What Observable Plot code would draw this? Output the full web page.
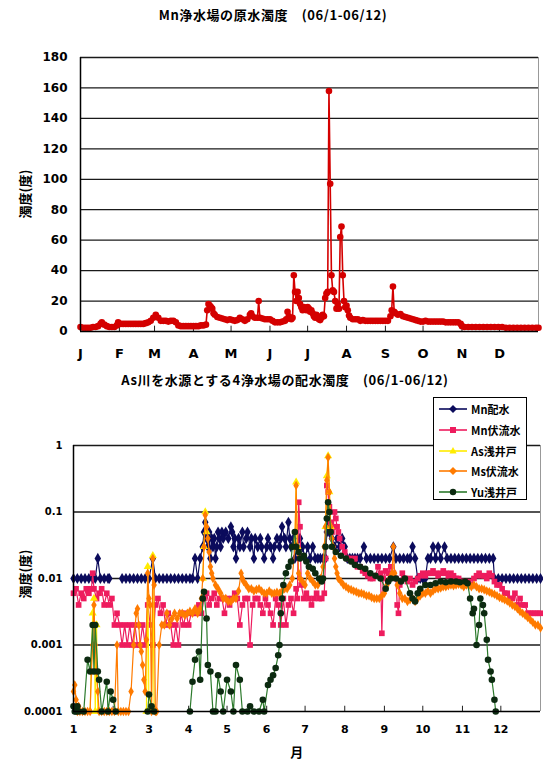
<!DOCTYPE html>
<html>
<head>
<meta charset="utf-8">
<script src="https://cdn.jsdelivr.net/npm/d3@7"></script>
<script src="https://cdn.jsdelivr.net/npm/@observablehq/plot@0.6"></script>
<style>
  body { margin: 0; background: #fff; }
  #page { position: relative; width: 543px; height: 766px; overflow: hidden; background: #fff;
          font-family: "DejaVu Sans", "Noto Sans CJK JP", sans-serif; font-weight: bold; color: #000; }
  .title { position: absolute; white-space: nowrap; font-size: 13px; letter-spacing: 0.6px; transform: translateX(-50%);
           font-family: "Noto Sans CJK JP", sans-serif; font-weight: bold; }
  .ylab { position: absolute; white-space: nowrap; font-size: 13px; transform: translate(-50%, -50%) rotate(-90deg);
          font-family: "Noto Sans CJK JP", sans-serif; font-weight: bold; }
  .chart { position: absolute; left: 0; }
  #top svg [aria-label^="x-axis"] text { font-size: 13px; }
  #bottom svg [aria-label^="x-axis"] text { font-size: 11px; }
  #legend { position: absolute; left: 433px; top: 397px; width: 92px; height: 101px; background: #fff;
            border: 1px solid #000; font-family: "Noto Sans CJK JP", sans-serif; font-size: 11px; }
  #legend .row { position: absolute; left: 4px; height: 14px; display: flex; align-items: center; }
  #legend svg { margin-right: 3px; }
</style>
</head>
<body>
<div id="page">
  <div class="title" style="left:273px; top:5px;">Mn浄水場の原水濁度　(06/1-06/12)</div>
  <div class="ylab" style="left:24px; top:194px;">濁度(度)</div>
  <div id="top" class="chart" style="top:0px;"></div>
  <div class="title" style="left:285px; top:370px;">As川を水源とする4浄水場の配水濁度　(06/1-06/12)</div>
  <div class="ylab" style="left:24px; top:574px;">濁度(度)</div>
  <div id="bottom" class="chart" style="top:390px;"></div>
  <div id="legend"></div>
  <div class="title" style="left:297px; top:742px;">月</div>
</div>
<script>
// ---- axes ----
const monthStartDays = [1, 32, 60, 91, 121, 152, 182, 213, 244, 274, 305, 335];
const monthLetters = ["J", "F", "M", "A", "M", "J", "J", "A", "S", "O", "N", "D"];
const monthNumbers = ["1", "2", "3", "4", "5", "6", "7", "8", "9", "10", "11", "12"];
const turbidityTicks = [0, 20, 40, 60, 80, 100, 120, 140, 160, 180];
const logTicks = [0.0001, 0.001, 0.01, 0.1, 1];
const logTickLabels = ["0.0001", "0.001", "0.01", "0.1", "1"];

// ---- Mn plant raw water turbidity, [day of year, degrees] ----
const mnRawWater = [
  [1,3],[3,2.5],[5,2.5],[7,2.5],[9,2.5],[11,3],[13,3],[15,3.5],[17,5],[18,6],[20,4.5],[22,3.5],[24,3],
  [26,3],[28,3],[30,4],[31,6],[33,5],[35,5],[37,5],[39,5],[41,5],[43,5],[45,5],[47,5],[49,5],[51,5],
  [53,5.5],[55,6],[57,7],[59,9],[61,11],[63,9],[65,7],[67,7],[69,7],[71,6.5],[73,7],[75,7],[77,6],
  [79,4],[81,3.5],[83,3.5],[85,3.5],[87,3.5],[89,3.5],[91,3.5],[93,3.5],[95,3.5],[97,4],[99,4],[101,4.5],
  [102,14],[103,18],[104,17],[105,16],[106,15],[107,12],[108,11],[110,9.5],[112,9],[114,8.5],[116,8],
  [118,7.5],[120,8],[122,7.5],[124,7],[126,7.5],[128,9],[130,8],[132,7],[134,8],[136,11],[137,12],
  [138,10],[140,9],[142,9],[143,20],[144,9],[146,8.5],[148,8],[150,8],[152,8],[154,7],[156,6],[158,6],
  [160,6],[162,6.5],[164,7],[165,8],[166,13],[167,10],[168,9],[169,8],[170,9],[171,37],[172,26],[173,20],
  [174,26],[175,22],[176,18],[177,16],[178,14],[179,16],[180,15],[181,14],[182,16],[183,15],[184,13],
  [185,14],[186,12],[187,10],[188,9],[189,11],[190,10],[191,8],[192,7.5],[193,9],[194,11],[195,10],
  [196,22],[197,25],[198,26],[199,158],[200,97],[201,37],[202,27],[203,26],[204,20],[205,15],[206,18],
  [207,15],[208,62],[209,69],[210,37],[211,20],[212,16],[213,17],[214,14],[215,10.5],[216,9],[218,8],
  [220,8],[222,8],[224,7],[226,7.5],[228,7],[230,7],[232,7],[234,7],[236,7],[238,7],[240,7],[242,7],
  [244,7],[246,7],[248,10],[249,14],[250,29.5],[251,13],[252,12],[254,11],[256,11.5],[258,10],[260,9.5],
  [262,9],[264,8.5],[266,8],[268,7.5],[270,7],[272,6.5],[274,6.5],[276,7],[278,6.5],[280,6.5],[282,6.5],
  [284,6.5],[286,6.5],[288,6.5],[290,6.5],[292,6],[294,6],[296,6],[298,6],[300,6],[302,6],[304,5],
  [305,3.5],[307,3],[310,3],[313,3],[316,3],[319,3],[322,3],[325,3],[328,3],[331,3],[334,3],[337,3],
  [340,2.5],[343,2.5],[346,2.5],[349,2.5],[352,2.5],[355,2.5],[358,2.5],[361,2.5],[364,2.5],[366,2.5]
];

// ---- distributed / intake water turbidity of the four plants, [day of year, degrees] ----
const mnDistributed = [
  [1,.01],[4,.01],[7,.01],[10,.01],[13,.01],[16,.01],[18,.01],[20,.02],[22,.01],[25,.01],[28,.01],[29,.01],
  [33,null],
  [39,.01],[42,.01],[45,.01],[48,.01],[51,.01],[54,.01],[57,.01],[60,.01],[63,.02],[65,.01],[68,.01],
  [71,.01],[74,.01],[77,.01],[80,.01],[83,.01],[86,.01],[89,.01],[92,.01],[94,.01],[96,.02],[98,.01],
  [100,.02],[102,.03],[103,.05],[104,.07],[105,.04],[106,.03],[107,.05],[108,.02],[109,.04],[110,.03],
  [111,.04],[112,.02],[113,.03],[114,.05],[115,.04],[116,.03],[117,.05],[118,.04],[120,.05],[122,.04],
  [124,.06],[125,.05],[126,.03],[127,.04],[128,.02],[130,.04],[131,.03],[133,.05],[134,.03],[136,.04],
  [137,.05],[139,.03],[140,.04],[142,.02],[143,.04],[145,.03],[147,.04],[148,.03],[150,.02],[152,.03],
  [153,.04],[155,.03],[157,.02],[158,.03],[160,.04],[162,.03],[163,.04],[164,.06],[166,.04],[167,.03],
  [169,.07],[170,.04],[171,.03],[173,.04],[174,.02],[176,.03],[178,.04],[180,.03],[182,.02],[184,.03],
  [186,.02],[188,.03],[190,.02],[192,.02],[194,.02],[196,.02],[198,.02],[199,.05],[200,.07],[201,.05],
  [203,.04],[205,.03],[207,.04],[209,.03],[211,.04],[213,.03],[215,.02],[217,.02],[219,.02],[221,.02],
  [223,.02],[225,.02],[228,.03],[230,.02],[233,.02],[236,.02],[239,.02],[242,.02],[245,.02],[248,.02],
  [251,.03],[253,.02],[256,.02],[259,.02],[262,.02],[264,.02],[266,.03],[268,.02],[270,.01],[272,.01],
  [274,.01],[276,.01],[278,.02],[280,.02],[282,.03],[284,.02],[286,.03],[288,.02],[291,.03],[293,.02],
  [296,.02],[299,.02],[302,.02],[305,.02],[308,.02],[311,.02],[314,.02],[317,.02],[320,.02],[323,.02],
  [326,.02],[329,.02],[330,.01],[333,.01],[336,.01],[339,.01],[342,.01],[345,.01],[348,.01],[351,.01],
  [354,.01],[357,.01],[360,.01],[363,.01],[366,.01]
];

const mnRiverbed = [
  [1,.006],[3,.007],[5,.004],[7,.006],[9,.005],[11,.007],[13,.006],[15,.007],[16,.012],[17,.007],[19,.005],
  [21,.006],[23,.007],[25,.004],[27,.006],[29,.004],[31,.005],[33,.002],[35,.003],[37,.002],[39,.001],
  [41,.002],[43,.001],[45,.002],[47,.001],[49,.002],[51,.001],[53,.001],[55,.002],[57,.001],[59,.004],
  [61,.002],[63,.001],[65,.004],[67,.005],[69,.003],[71,.004],[73,.002],[75,.003],[77,.002],[79,.001],
  [81,.002],[83,.001],[85,.003],[87,.002],[89,.003],[91,.002],[93,.003],[95,.003],[97,.003],[99,.004],
  [101,.003],[103,.005],[105,.006],[107,.004],[109,.005],[111,.006],[113,.004],[115,.005],[117,.005],
  [119,.003],[121,.005],[123,.004],[125,.005],[127,.006],[129,.005],[131,.002],[133,.004],[135,.005],
  [137,.005],[139,.001],[141,.004],[143,.005],[145,.005],[147,.004],[149,.003],[151,.005],[153,.004],
  [155,.003],[157,.002],[159,.005],[161,.004],[163,.002],[165,.005],[167,.002],[169,.004],[171,.005],
  [173,.003],[175,.007],[176,.005],[177,.14],[178,.06],[179,.008],[181,.005],[183,.006],[185,.005],
  [187,.004],[189,.005],[191,.006],[193,.005],[195,.005],[197,.006],[198,.02],[199,.25],[200,.2],
  [201,.12],[202,.07],[203,.05],[204,.06],[205,.1],[206,.08],[207,.06],[208,.05],[209,.04],[211,.03],
  [213,.025],[215,.02],[217,.02],[219,.018],[221,.02],[223,.015],[225,.015],[227,.013],[229,.012],
  [231,.011],[233,.01],[235,.01],[237,.011],[239,.015],[241,.012],[242,.0015],[243,.01],[245,.013],
  [247,.012],[249,.015],[251,.012],[253,.01],[254,.004],[255,.003],[256,.008],[258,.012],[260,.01],
  [262,.009],[264,.01],[266,.008],[268,.009],[270,.01],[272,.011],[274,.012],[276,.011],[278,.012],
  [280,.012],[282,.013],[284,.012],[286,.011],[288,.012],[290,.013],[292,.012],[294,.011],[296,.012],
  [298,.011],[300,.01],[302,.01],[304,.009],[306,.009],[308,.008],[310,.009],[312,.008],[314,.01],
  [316,.011],[318,.012],[320,.011],[322,.011],[324,.01],[326,.012],[328,.011],[330,.009],[332,.008],
  [334,.008],[336,.007],[338,.006],[340,.006],[342,.005],[344,.005],[346,.006],[348,.004],[350,.005],
  [352,.004],[354,.004],[356,.003],[358,.003],[360,.003],[362,.003],[364,.003],[366,.003]
];

const asShallowWell = [
  [14,.0001],[16,.003],[17,.005],[18,.0001],[19,.002],[20,.0001],[21,null],
  [58,.0001],[59,.015],[60,.0001],[62,.0001],[63,.022],[64,.0001],[65,null],
  [102,.01],[103,.03],[104,.1],[105,.05],[106,null],
  [174,.03],[175,.28],[176,.03],[177,null],
  [198,.06],[199,.35],[200,.7],[201,.2],[202,.06]
];

const msRiverbed = [
  [1,.0002],[2,.00025],[3,.00015],[4,.0001],[5,.00012],[6,.0001],[8,.0001],[10,.0001],[12,.0001],
  [14,.0001],[15,.0004],[16,.001],[17,.004],[18,.001],[19,.0004],[20,.0002],[21,.0001],[23,.0001],
  [25,.0001],[27,.0001],[29,.0001],[31,.0001],[33,.0001],[35,.001],[36,.0001],[38,.0001],[40,.0001],
  [42,.0001],[44,.0001],[46,.0002],[48,.001],[50,.003],[51,.0035],[52,.002],[53,.001],[54,.0008],
  [55,.0005],[56,.0003],[57,.0002],[58,.0012],[59,.012],[60,.005],[61,.004],[62,.0001],[63,.02],
  [64,.008],[65,.0001],[66,.0001],[68,.001],[70,.002],[72,.002],[74,.003],[76,.002],[78,.0025],
  [80,.003],[82,.0025],[84,.003],[86,.003],[88,.0028],[90,.003],[92,.0032],[94,.003],[96,.0035],
  [98,.003],[100,.0035],[101,.005],[102,.01],[103,.03],[104,.09],[105,.06],[106,.04],[107,.025],
  [108,.015],[109,.012],[110,.01],[112,.008],[114,.007],[116,.006],[118,.005],[120,.005],[122,.0045],
  [124,.0045],[126,.005],[128,.005],[130,.0065],[132,.012],[133,.01],[134,.009],[136,.008],[138,.007],
  [140,.007],[142,.0065],[144,.0068],[146,.007],[148,.0065],[150,.006],[152,.006],[154,.0065],
  [156,.006],[158,.006],[160,.0062],[162,.006],[164,.0065],[166,.007],[168,.007],[170,.008],[172,.01],
  [174,.03],[175,.25],[176,.03],[177,.012],[178,.01],[180,.009],[182,.008],[184,.012],[186,.01],
  [188,.009],[190,.008],[192,.008],[194,.01],[196,.015],[197,.03],[198,.06],[199,.3],[200,.66],
  [201,.2],[202,.06],[203,.04],[204,.03],[205,.02],[206,.015],[207,.012],[208,.01],[210,.009],
  [212,.008],[214,.0075],[216,.007],[218,.0068],[220,.0065],[222,.0063],[224,.006],[226,.006],
  [228,.0058],[230,.0055],[232,.0055],[234,.0052],[236,.005],[238,.005],[240,.005],[242,.0055],
  [244,.006],[246,.008],[248,.01],[250,.012],[251,.03],[252,.012],[254,.008],[256,.006],[258,.005],
  [260,.005],[262,.0045],[264,.0048],[266,.005],[268,.0045],[270,.005],[272,.0055],[274,.006],
  [276,.006],[278,.0065],[280,.006],[282,.0065],[284,.007],[286,.007],[288,.0072],[290,.0075],
  [292,.0075],[294,.0078],[296,.008],[298,.0078],[300,.008],[302,.0082],[304,.008],[306,.0075],
  [308,.008],[310,.0078],[312,.0075],[314,.008],[316,.0075],[318,.007],[320,.007],[322,.0068],
  [324,.0065],[326,.0063],[328,.006],[330,.0058],[332,.0055],[334,.0052],[336,.005],[338,.0048],
  [340,.0046],[342,.0043],[344,.004],[346,.0038],[348,.0035],[350,.0032],[352,.003],[354,.0028],
  [356,.0026],[358,.0024],[360,.0022],[362,.002],[364,.002],[366,.0018]
];

const yuShallowWell = [
  [1,.00012],[2,.0001],[3,.0001],[4,.00012],[5,.0001],[9,.0001],[12,.0006],[14,.0004],[16,.002],
  [17,.0004],[18,.002],[20,.0004],[21,.0003],[23,.0001],[27,.00028],[28,.0001],[30,.0002],[32,.00015],
  [34,.0001],[35,null],
  [59,.0001],[60,.00018],[62,.00012],[64,.0001],[65,null],
  [92,.0001],[94,.00028],[96,.0006],[99,.0008],[100,.0003],[102,.005],[103,.0063],[105,.0025],
  [106,.0005],[108,.0004],[110,.0001],[112,.0001],[114,.00035],[116,.0002],[118,.0001],[121,.0003],
  [124,.0002],[126,.0001],[128,.0005],[131,.0003],[133,.0001],[137,.0001],[139,.00012],[142,.0001],
  [146,.0001],[149,.00015],[150,.0001],[153,.00025],[155,.0003],[157,.00035],[159,.00045],[161,.0007],
  [162,.001],[163,.003],[164,.005],[165,.008],[167,.012],[169,.015],[171,.018],[172,.03],[174,.05],
  [175,.03],[177,.025],[178,.02],[181,.022],[183,.018],[185,.015],[188,.014],[190,.012],[193,.01],
  [195,.009],[196,.01],[198,.03],[199,.08],[200,.14],[201,.1],[202,.05],[203,.03],[206,.025],
  [210,.022],[214,.02],[218,.018],[221,.016],[225,.015],[229,.014],[233,.012],[237,.011],[241,.01],
  [245,.007],[247,.009],[249,.01],[253,.01],[257,.009],[260,.01],[264,.006],[266,.005],[268,.0045],
  [270,.006],[272,.007],[276,.008],[280,.008],[284,.0085],[288,.009],[292,.0088],[296,.009],[300,.009],
  [303,.0088],[307,.009],[309,.0085],[311,.005],[313,.003],[314,.0035],[316,.001],[318,.002],[319,.005],
  [321,.004],[322,.003],[324,.0012],[325,.0006],[327,.0004],[328,.0003],[330,.00015],[331,.0001]
];

const series = [
  {name: "Mn配水",   data: mnDistributed,  line: "#0b0b5c", fill: "#0b0b5c", symbol: "diamond", r: 3.4},
  {name: "Mn伏流水", data: mnRiverbed,     line: "#ee1c5e", fill: "#ee1c5e", symbol: "square",  r: 3.2},
  {name: "As浅井戸", data: asShallowWell,  line: "#ffec00", fill: "#ffec00", symbol: "triangle", r: 3},
  {name: "Ms伏流水", data: msRiverbed,     line: "#ff7b00", fill: "#ff7b00", symbol: "diamond", r: 2.9},
  {name: "Yu浅井戸", data: yuShallowWell,  line: "#2c7a2c", fill: "#0c2a10", symbol: "circle",  r: 3.3}
];

const fontStyle = {
  fontFamily: '"DejaVu Sans", "Noto Sans CJK JP", sans-serif',
  fontWeight: "bold",
  color: "#000",
  background: "transparent",
  overflow: "visible"
};

// ---- upper chart: raw water turbidity (linear) ----
const topChart = Plot.plot({
  width: 543, height: 370,
  marginTop: 57, marginBottom: 39, marginLeft: 80, marginRight: 5,
  style: {...fontStyle, fontSize: "12px"},
  x: {domain: [1, 366], ticks: monthStartDays, tickFormat: d => monthLetters[monthStartDays.indexOf(d)],
      tickSize: 0, tickPadding: 17, label: null},
  y: {domain: [0, 180], ticks: turbidityTicks, tickSize: 0, tickPadding: 13, label: null},
  marks: [
    Plot.ruleY(turbidityTicks.slice(1), {stroke: "#1a1a1a", strokeWidth: 1.3}),
    Plot.ruleX([366], {stroke: "#999", strokeWidth: 1}),
    Plot.ruleX(monthStartDays.slice(1), {y1: 0, y2: 3.5, stroke: "#222"}),
    Plot.line(mnRawWater, {x: d => d[0], y: d => d[1], stroke: "#d40000", strokeWidth: 1.6}),
    Plot.dot(mnRawWater, {x: d => d[0], y: d => d[1], r: 3.3, fill: "#d40000", stroke: "none"}),
    Plot.ruleY([0], {stroke: "#000", strokeWidth: 1.5}),
    Plot.ruleX([1], {stroke: "#000", strokeWidth: 1.5})
  ]
});
document.getElementById("top").append(topChart);

// ---- lower chart: distributed water turbidity (log) ----
const lowerMarks = [
  Plot.ruleY(logTicks.slice(1), {stroke: "#1a1a1a", strokeWidth: 1.3}),
  Plot.ruleX([366], {stroke: "#999", strokeWidth: 1}),
  Plot.ruleX(monthStartDays.slice(1), {y1: 0.0001, y2: 0.00012, stroke: "#222"})
];
for (const s of series) {
  lowerMarks.push(Plot.line(s.data, {x: d => d[0], y: d => d[1], stroke: s.line, strokeWidth: 1.2}));
  lowerMarks.push(Plot.dot(s.data, {x: d => d[0], y: d => d[1], r: s.r, symbol: s.symbol, fill: s.fill, stroke: "none"}));
}
lowerMarks.push(Plot.ruleY([0.0001], {stroke: "#000", strokeWidth: 1.5}));
lowerMarks.push(Plot.ruleX([1], {stroke: "#000", strokeWidth: 1.5}));

const bottomChart = Plot.plot({
  width: 543, height: 376,
  marginTop: 55, marginBottom: 55, marginLeft: 73, marginRight: 3,
  style: {...fontStyle, fontSize: "10px"},
  x: {domain: [1, 366], ticks: monthStartDays, tickFormat: d => monthNumbers[monthStartDays.indexOf(d)],
      tickSize: 0, tickPadding: 14, label: null},
  y: {type: "log", domain: [0.0001, 1], ticks: logTicks, tickFormat: d => logTickLabels[logTicks.indexOf(d)],
      tickSize: 0, tickPadding: 11, label: null},
  marks: lowerMarks
});
document.getElementById("bottom").append(bottomChart);

// ---- legend ----
const legend = document.getElementById("legend");
const symbolPath = {
  diamond: "M0,-4L4,0L0,4L-4,0Z",
  square: "M-3,-3H3V3H-3Z",
  triangle: "M0,-4L3.6,2.6H-3.6Z",
  circle: "M3.2,0A3.2,3.2 0 1 1 -3.2,0A3.2,3.2 0 1 1 3.2,0Z"
};
series.forEach((s, i) => {
  const row = document.createElement("div");
  row.className = "row";
  row.style.top = (4 + i * 20.8) + "px";
  row.innerHTML =
    `<svg width="30" height="12" viewBox="-15 -6 30 12">` +
    `<line x1="-14" x2="14" y1="0" y2="0" stroke="${s.line}" stroke-width="1.6"></line>` +
    `<path d="${symbolPath[s.symbol]}" fill="${s.fill}"></path></svg>` +
    `<span>${s.name}</span>`;
  legend.append(row);
});
</script>
</body>
</html>
